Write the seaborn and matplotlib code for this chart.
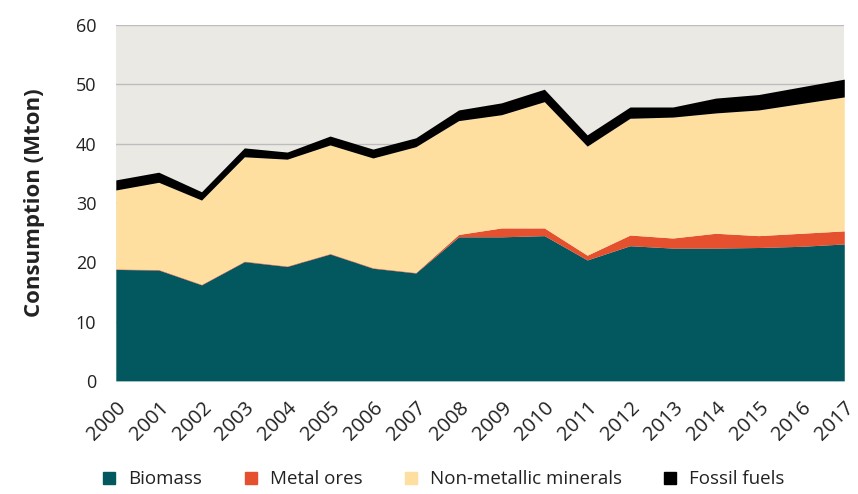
import matplotlib
matplotlib.use("Agg")
import matplotlib.pyplot as plt
from matplotlib.lines import Line2D
import seaborn as sns

years = list(range(2000, 2018))
biomass = [18.8, 18.7, 16.2, 20.1, 19.3, 21.4, 19.0, 18.2, 24.3, 24.3,
           24.5, 20.4, 22.8, 22.4, 22.4, 22.5, 22.7, 23.1]
metal_ores = [0.1, 0.1, 0.1, 0.1, 0.1, 0.1, 0.1, 0.1, 0.4, 1.5,
              1.3, 0.8, 1.8, 1.7, 2.5, 2.0, 2.2, 2.2]
non_metallic = [13.3, 14.7, 14.2, 17.6, 18.0, 18.3, 18.5, 21.2, 19.2, 19.1,
                21.3, 18.4, 19.7, 20.4, 20.3, 21.2, 21.9, 22.6]
fossil_fuels = [1.7, 1.7, 1.4, 1.5, 1.2, 1.5, 1.5, 1.5, 1.8, 2.0,
                2.1, 1.9, 1.9, 1.7, 2.5, 2.6, 2.8, 3.0]
series_names = ["Biomass", "Metal ores", "Non-metallic minerals", "Fossil fuels"]
colors = ["#02585E", "#E5502E", "#FEDFA0", "#000000"]

sns.set_theme(style="white")
plt.rcParams["font.family"] = ["Open Sans", "DejaVu Sans"]

fig = plt.figure(figsize=(8.58, 4.94), dpi=100)
ax = fig.add_axes([0.135, 0.229, 0.849, 0.72])
ax.set_facecolor("#EAE9E4")

x = list(range(len(years)))
ax.stackplot(x, biomass, metal_ores, non_metallic, fossil_fuels,
             colors=colors, linewidth=0, zorder=3)

ax.set_xlim(0, len(years) - 1)
ax.set_ylim(0, 60)
ax.set_yticks(range(0, 61, 10))
ax.yaxis.grid(True, color="#BDBDBD", linewidth=1.0, zorder=1)
ax.set_axisbelow(True)
for s in ax.spines.values():
    s.set_visible(False)

ax.set_xticks(x)
ax.set_xticklabels([str(y) for y in years], rotation=45, ha="right",
                   rotation_mode="anchor", fontsize=14.5, color="#222222")
ax.tick_params(axis="y", labelsize=13, labelcolor="#222222", pad=14, length=0)
ax.tick_params(axis="x", pad=12, length=0)
ax.set_ylabel("Consumption (Mton)", fontsize=16, fontweight="bold",
              color="#222222", labelpad=22)

handles = [Line2D([0], [0], marker="s", linestyle="none", markersize=9,
                  markerfacecolor=c, markeredgecolor=c) for c in colors]
fig.legend(handles, series_names, loc="center", bbox_to_anchor=(0.51, 0.03),
           ncol=4, frameon=False, fontsize=13.5, handletextpad=0.0,
           columnspacing=1.6, labelcolor="#222222")

fig.savefig("out.png", dpi=100)
